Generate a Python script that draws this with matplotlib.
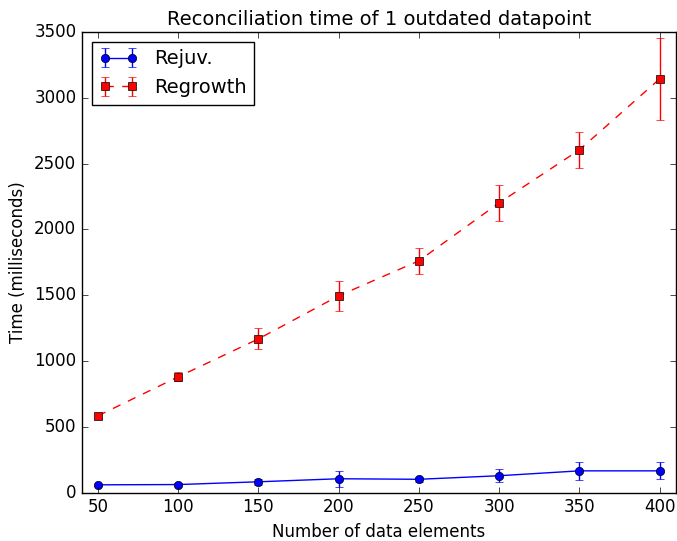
import matplotlib
matplotlib.use("Agg")
import matplotlib.pyplot as plt

plt.style.use('classic')

n_elements = [50, 100, 150, 200, 250, 300, 350, 400]
rejuv = [61, 63, 84, 107, 103, 130, 167, 167]
rejuv_err = [10, 10, 22, 60, 18, 48, 70, 65]
regrowth = [585, 881, 1169, 1496, 1762, 2202, 2604, 3143]
regrowth_err = [20, 35, 80, 115, 100, 135, 135, 310]

fig = plt.figure(figsize=(6.77, 5.41), dpi=100)
ax = fig.add_axes([0.121, 0.089, 0.877, 0.852])
ax.errorbar(n_elements, rejuv, yerr=rejuv_err, fmt='o-', color='blue', label='Rejuv.')
ax.errorbar(n_elements, regrowth, yerr=regrowth_err, fmt='s--', color='red', label='Regrowth')
ax.set_xlim(40, 410)
ax.set_ylim(0, 3500)
ax.set_title('Reconciliation time of 1 outdated datapoint', fontsize=14)
ax.set_xlabel('Number of data elements', fontsize=12)
ax.set_ylabel('Time (milliseconds)', fontsize=12)
ax.tick_params(labelsize=12)
ax.legend(loc='upper left', fontsize=14)
fig.savefig('out.png', dpi=100)
